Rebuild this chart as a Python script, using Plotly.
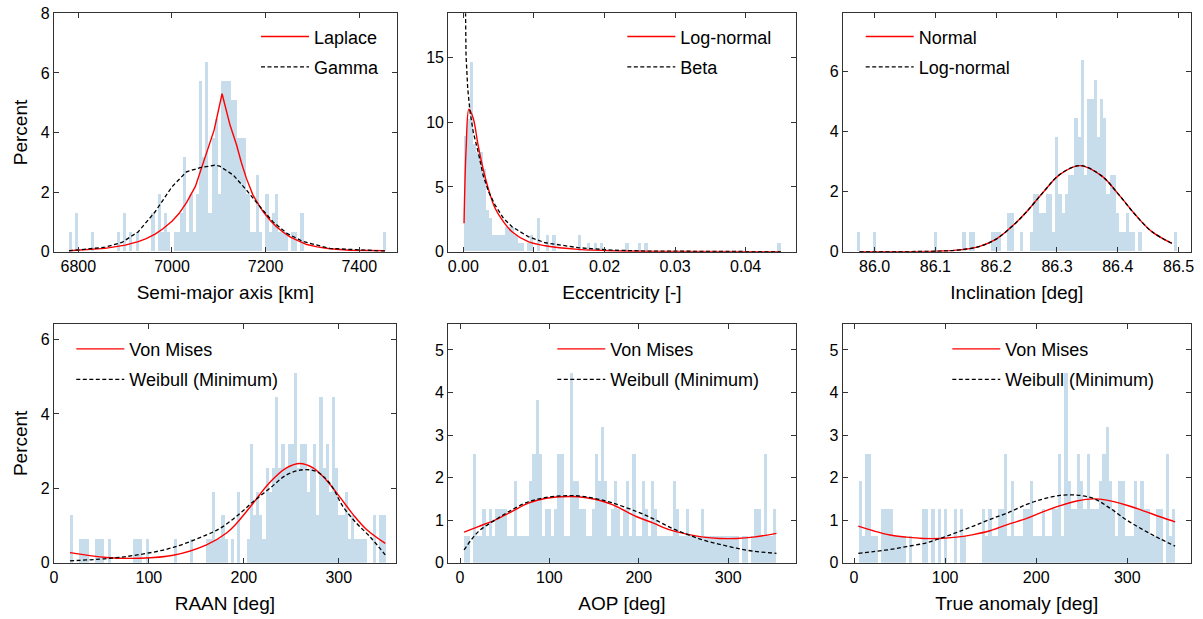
import numpy as np
import plotly.graph_objects as go

N_SAMPLES = 157

# ---------------- histogram data (counts per bin, 100 bins) ----------------
sma_range = [6780, 7457]
sma_counts = [1,0,2,0,0,0,0,1,0,0, 0,0,0,0,0,1,0,2,0,1, 0,1,0,0,0,0,2,0,3,1,
              2,1,0,1,1,2,5,1,3,1, 3,9,5,10,2,6,7,3,9,9, 9,8,8,6,6,6,3,1,1,4,
              1,0,3,1,2,3,1,1,1,0, 1,1,0,2,0,0,0,0,0,0, 0,0,0,0,0,0,0,0,0,0,
              0,0,0,0,0,0,0,0,0,1]

ecc_range = [0.0001, 0.0450]
ecc_counts = [14,16,23,13,12,12,10,5,4,2, 2,2,2,3,3,3,2,1,1,0, 1,2,0,4,0,0,2,0,2,0,
              0,0,0,0,0,0,2,0,0,1, 0,1,0,1,0,0,0,0,0,0, 0,1,0,0,0,1,0,1,0,0,
              0,0,0,0,0,0,0,0,0,0, 0,0,0,0,0,0,0,0,0,0, 0,0,0,0,0,0,0,0,0,0,
              0,0,0,0,0,0,0,0,0,1]

inc_range = [85.971, 86.497]
inc_counts = [1,0,0,0,0,1,0,0,0,0, 0,0,0,0,0,0,0,0,0,0, 0,0,0,0,1,0,0,0,0,0,
              0,0,0,1,0,1,1,0,0,0, 0,0,1,1,1,0,0,2,2,0, 0,1,0,0,1,3,3,2,2,3,
              3,1,6,3,2,3,4,4,7,6, 10,4,8,8,9,6,8,7,3,4, 4,2,1,1,2,1,1,0,1,0,
              0,0,0,0,0,0,0,0,0,1]

raan_range = [16.5, 349.5]
raan_counts = [2,0,0,1,1,1,0,0,1,1, 1,0,1,0,0,0,0,0,0,0, 1,1,1,0,1,0,0,0,0,0,
               0,0,0,1,0,0,0,0,1,0, 0,0,0,1,1,3,1,1,2,1, 0,1,0,3,0,0,1,5,2,3,
               2,1,4,3,4,7,4,5,4,5, 5,8,4,5,5,3,4,5,2,7, 4,5,3,7,4,2,2,3,1,2,
               1,1,1,1,0,0,2,0,2,2]

aop_range = [4.5, 354.0]
aop_counts = [1,1,0,4,1,1,2,1,2,1, 2,2,2,2,1,1,3,1,1,1, 1,3,4,6,4,1,2,2,1,2,
              4,4,1,1,7,3,3,2,2,1, 1,2,4,3,5,3,1,2,3,2, 1,2,3,1,4,1,1,3,2,1,
              3,2,1,1,1,1,1,3,2,1, 1,2,1,1,1,1,2,1,1,1, 1,1,1,1,1,1,1,1,0,1,
              1,0,1,2,2,1,4,1,1,2]

anom_range = [4.7, 352.3]
anom_counts = [3,1,4,4,1,1,0,2,2,2, 2,1,1,1,1,0,1,0,0,0, 2,2,0,2,0,2,0,2,0,0,
               2,0,2,1,0,0,0,0,0,2, 1,2,1,1,2,2,4,1,3,1, 1,1,2,2,3,1,1,1,2,1,
               1,2,2,4,1,7,3,2,2,4, 3,2,4,2,2,2,3,4,5,3, 2,1,3,3,1,1,1,3,2,3,
               2,2,1,1,2,2,0,4,1,2]

# ---------------- fitted curves ----------------
sma_laplace_x = [6780, 6820, 6857, 6900, 6928, 6945, 6964, 6980, 7000, 7015, 7031, 7050, 7074, 7090, 7107,
                 7116, 7124, 7138, 7148, 7159, 7173, 7185, 7195, 7210, 7223, 7237, 7252, 7270, 7288, 7310, 7337, 7380, 7455]
sma_laplace_y = [0.03, 0.06, 0.11, 0.22, 0.34, 0.44, 0.59, 0.76, 1.02, 1.28, 1.65, 2.19, 3.33, 4.08, 5.30,
                 4.70, 4.25, 3.58, 3.00, 2.46, 1.90, 1.58, 1.34, 1.05, 0.84, 0.66, 0.50, 0.36, 0.24, 0.16, 0.10, 0.05, 0.03]
sma_gamma_x = [6780, 6857, 6893, 6928, 6964, 7000, 7031, 7060, 7091, 7102, 7131, 7159, 7188, 7216, 7245, 7280, 7337, 7455]
sma_gamma_y = [0.03, 0.15, 0.31, 0.67, 1.34, 2.18, 2.68, 2.82, 2.90, 2.87, 2.57, 2.07, 1.51, 1.00, 0.62, 0.34, 0.11, 0.02]

ecc_lognorm_x = [0.0001, 0.0004, 0.0008, 0.0014, 0.0021, 0.0028, 0.0036, 0.0045, 0.0057, 0.0069, 0.0092, 0.0116, 0.0163, 0.0210, 0.0300, 0.0450]
ecc_lognorm_y = [2.2, 8.0, 11.0, 10.3, 8.2, 6.4, 4.75, 3.35, 2.3, 1.54, 0.77, 0.46, 0.18, 0.07, 0.02, 0.0]
ecc_beta_x = [0.00008, 0.00024, 0.00038, 0.00062, 0.00095, 0.0014, 0.0021, 0.0028, 0.0036, 0.0045, 0.0057, 0.0069, 0.0092, 0.0116, 0.0163, 0.0210, 0.0258, 0.0450]
ecc_beta_y = [30.0, 18.4, 15.2, 12.6, 10.8, 9.25, 7.7, 5.9, 4.6, 3.6, 2.57, 1.93, 1.16, 0.69, 0.31, 0.12, 0.05, 0.0]

inc_normal_x = [85.975, 86.107, 86.140, 86.173, 86.200, 86.228, 86.250, 86.278, 86.305, 86.338, 86.374, 86.401, 86.429, 86.456, 86.489]
inc_normal_y = [0.0, 0.02, 0.06, 0.18, 0.42, 0.88, 1.33, 2.0, 2.58, 2.87, 2.52, 1.92, 1.23, 0.67, 0.28]
inc_lognorm_x = [85.975, 86.107, 86.140, 86.173, 86.200, 86.228, 86.250, 86.278, 86.305, 86.338, 86.374, 86.401, 86.429, 86.456, 86.489]
inc_lognorm_y = [0.0, 0.02, 0.06, 0.18, 0.42, 0.88, 1.33, 2.0, 2.58, 2.87, 2.52, 1.92, 1.23, 0.67, 0.28]

raan_vm_x = [16.8, 55.5, 90.5, 125.6, 160.7, 181.8, 192.0, 209.8, 227.0, 244.9, 259.0, 273.0, 287.0, 301.0, 315.0, 329.0, 349.0]
raan_vm_y = [0.27, 0.14, 0.12, 0.20, 0.48, 0.80, 1.05, 1.60, 2.15, 2.55, 2.67, 2.55, 2.22, 1.77, 1.30, 0.90, 0.52]
raan_wb_x = [16.8, 55.5, 90.5, 125.6, 160.7, 174.7, 192.0, 209.8, 227.4, 244.9, 262.0, 276.6, 290.7, 304.7, 318.8, 332.8, 349.0]
raan_wb_y = [0.05, 0.11, 0.22, 0.41, 0.75, 0.92, 1.24, 1.64, 2.00, 2.36, 2.50, 2.45, 2.13, 1.50, 1.06, 0.70, 0.21]

aop_vm_x = [4.5, 20.5, 39.0, 57.8, 76.4, 95.0, 113.8, 132.3, 151.0, 169.7, 197.7, 216.3, 235.0, 253.6, 272.2, 290.8, 309.4, 328.0, 354.0]
aop_vm_y = [0.72, 0.85, 1.00, 1.20, 1.40, 1.51, 1.55, 1.55, 1.49, 1.37, 1.08, 0.93, 0.77, 0.67, 0.60, 0.57, 0.57, 0.60, 0.69]
aop_wb_x = [4.5, 20.5, 39.0, 57.8, 76.4, 95.0, 113.8, 132.3, 151.0, 169.7, 197.7, 216.3, 235.0, 253.6, 272.2, 290.8, 309.4, 328.0, 354.0]
aop_wb_y = [0.30, 0.73, 1.00, 1.24, 1.43, 1.53, 1.57, 1.57, 1.51, 1.41, 1.20, 1.03, 0.83, 0.67, 0.53, 0.43, 0.34, 0.27, 0.22]

anom_vm_x = [4.7, 21.2, 39.5, 57.8, 76.1, 94.4, 112.7, 131.0, 149.3, 167.6, 189.6, 207.9, 226.2, 244.5, 262.8, 277.4, 299.4, 317.7, 336.0, 352.5]
anom_vm_y = [0.86, 0.75, 0.65, 0.60, 0.57, 0.57, 0.60, 0.66, 0.75, 0.89, 1.04, 1.20, 1.34, 1.45, 1.50, 1.47, 1.35, 1.22, 1.08, 0.96]
anom_wb_x = [4.7, 21.2, 39.5, 57.8, 76.1, 94.4, 112.7, 131.0, 149.3, 167.6, 189.6, 207.9, 226.2, 244.5, 262.8, 281.1, 299.4, 317.7, 336.0, 352.5]
anom_wb_y = [0.22, 0.26, 0.31, 0.38, 0.45, 0.57, 0.71, 0.86, 1.02, 1.16, 1.37, 1.50, 1.58, 1.59, 1.51, 1.28, 1.00, 0.77, 0.56, 0.39]

x_titles = ["Semi-major axis [km]", "Eccentricity [-]", "Inclination [deg]",
            "RAAN [deg]", "AOP [deg]", "True anomaly [deg]"]
legend_names = [("Laplace", "Gamma"), ("Log-normal", "Beta"), ("Normal", "Log-normal"),
                ("Von Mises", "Weibull (Minimum)"), ("Von Mises", "Weibull (Minimum)"),
                ("Von Mises", "Weibull (Minimum)")]

panels = [
    dict(rng=sma_range, counts=sma_counts, red=(sma_laplace_x, sma_laplace_y), blk=(sma_gamma_x, sma_gamma_y), red_shape="linear"),
    dict(rng=ecc_range, counts=ecc_counts, red=(ecc_lognorm_x, ecc_lognorm_y), blk=(ecc_beta_x, ecc_beta_y), red_shape="spline"),
    dict(rng=inc_range, counts=inc_counts, red=(inc_normal_x, inc_normal_y), blk=(inc_lognorm_x, inc_lognorm_y), red_shape="spline"),
    dict(rng=raan_range, counts=raan_counts, red=(raan_vm_x, raan_vm_y), blk=(raan_wb_x, raan_wb_y), red_shape="spline"),
    dict(rng=aop_range, counts=aop_counts, red=(aop_vm_x, aop_vm_y), blk=(aop_wb_x, aop_wb_y), red_shape="spline"),
    dict(rng=anom_range, counts=anom_counts, red=(anom_vm_x, anom_vm_y), blk=(anom_wb_x, anom_wb_y), red_shape="spline"),
]

# ---------------- layout geometry ----------------
W, H = 1203, 619
FONT = "Liberation Sans"
HIST_COLOR = "#c7ddec"
FRAME = "#333333"

x_px = [(54, 396.7), (448.3, 795.7), (843.0, 1190.7), (54, 395.7), (448.3, 795.7), (842.7, 1190.7)]
y_px = [(13.3, 251.7)] * 3 + [(324, 562.7)] * 3
x_ranges = [[6748, 7480], [-0.00213, 0.0471], [85.948, 86.52], [0, 360], [-13.1, 375.5], [-12.4, 369.6]]
y_ranges = [[0, 8], [0, 18.4], [0, 7.95], [0, 6.42], [0, 5.61], [0, 5.61]]
x_ticks = [[6800, 7000, 7200, 7400], [0, 0.01, 0.02, 0.03, 0.04], [86.0, 86.1, 86.2, 86.3, 86.4, 86.5],
           [0, 100, 200, 300], [0, 100, 200, 300], [0, 100, 200, 300]]
x_fmt = [None, ".2f", ".1f", None, None, None]
y_ticks = [[0, 2, 4, 6, 8], [0, 5, 10, 15], [0, 2, 4, 6], [0, 2, 4, 6], [0, 1, 2, 3, 4, 5], [0, 1, 2, 3, 4, 5]]
# legend anchor (line start x, first row centre y) in pixels
leg_px = [(257, 38.3), (623.3, 38.3), (861.7, 38.3), (72.3, 350.7), (553.3, 350.7), (948.3, 350.7)]

fig = go.Figure()
layout = dict(
    width=W, height=H, margin=dict(l=0, r=0, t=0, b=0),
    paper_bgcolor="white", plot_bgcolor="white",
    font=dict(family=FONT, size=16, color="black"),
    bargap=0, barmode="overlay",
)

for i, p in enumerate(panels):
    sfx = "" if i == 0 else str(i + 1)
    xa, ya = "x" + sfx, "y" + sfx
    leg = "legend" + sfx
    edges = np.linspace(p["rng"][0], p["rng"][1], len(p["counts"]) + 1)
    centers = 0.5 * (edges[:-1] + edges[1:])
    width = edges[1] - edges[0]
    pct = np.array(p["counts"], dtype=float) * 100.0 / N_SAMPLES
    fig.add_trace(go.Bar(x=centers, y=pct, width=width, marker=dict(color=HIST_COLOR, line=dict(width=0)),
                         xaxis=xa, yaxis=ya, showlegend=False, hoverinfo="skip"))
    rn, bn = legend_names[i]
    fig.add_trace(go.Scatter(x=p["red"][0], y=p["red"][1], mode="lines", name=rn,
                             line=dict(color="red", width=1.4, shape=p["red_shape"]),
                             xaxis=xa, yaxis=ya, legend=leg, legendgroup="r" + sfx))
    fig.add_trace(go.Scatter(x=p["blk"][0], y=p["blk"][1], mode="lines", name=bn,
                             line=dict(color="black", width=1.3, dash="4px,2.5px",
                                       shape="linear" if i < 2 else "spline"),
                             xaxis=xa, yaxis=ya, legend=leg, legendgroup="b" + sfx))

    x0, x1 = x_px[i]
    y0, y1 = y_px[i]
    axis_common = dict(showline=True, linecolor=FRAME, linewidth=1.3, mirror="allticks",
                       ticks="inside", ticklen=5, tickwidth=1.1, tickcolor=FRAME,
                       showgrid=False, zeroline=False, automargin=False,
                       tickfont=dict(family=FONT, size=16, color="black"))
    layout["xaxis" + sfx] = dict(axis_common, domain=[x0 / W, x1 / W], range=x_ranges[i],
                                 tickvals=x_ticks[i], tickformat=x_fmt[i], anchor=ya,
                                 title=dict(text=x_titles[i], font=dict(family=FONT, size=19), standoff=11))
    layout["yaxis" + sfx] = dict(axis_common, domain=[1 - y1 / H, 1 - y0 / H], range=y_ranges[i],
                                 tickvals=y_ticks[i], anchor=xa,
                                 title=dict(text="Percent" if i in (0, 3) else "",
                                            font=dict(family=FONT, size=19), standoff=8))
    lx, ly = leg_px[i]
    layout[leg] = dict(x=(lx - 1) / W, y=1 - (ly - 20) / H, xanchor="left", yanchor="top",
                       bgcolor="rgba(0,0,0,0)", borderwidth=0, font=dict(family=FONT, size=18),
                       tracegroupgap=4, itemwidth=48)

fig.update_layout(**layout)
fig.write_html("out.html")
